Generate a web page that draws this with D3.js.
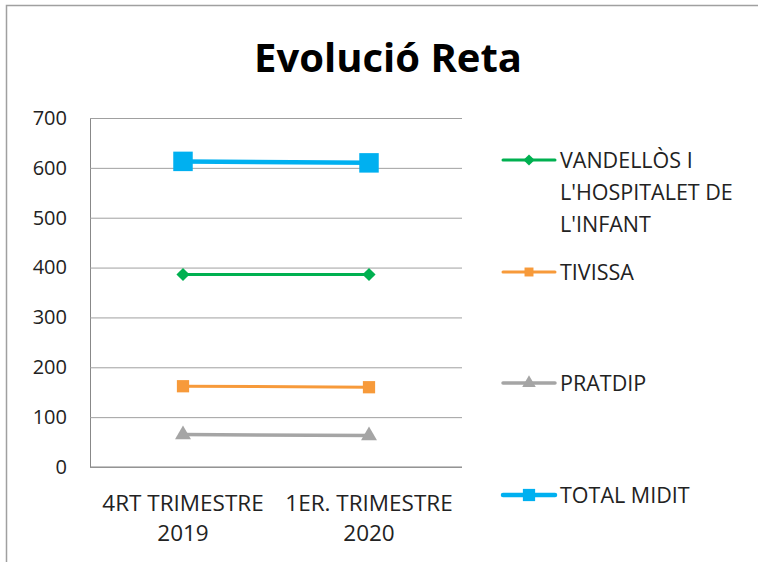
<!DOCTYPE html>
<html><head><meta charset="utf-8">
<script src="https://cdn.jsdelivr.net/npm/d3@7"></script>
<style>body{margin:0;background:#fff}text{font-family:"Open Sans",Lato,sans-serif}</style>
</head><body>
<svg id="c" width="758" height="562"></svg>
<script>
const categories = [["4RT TRIMESTRE","2019"],["1ER. TRIMESTRE","2020"]];
const seriesNames = [["VANDELLÒS I","L'HOSPITALET DE","L'INFANT"],["TIVISSA"],["PRATDIP"],["TOTAL MIDIT"]];
const vandellos = [386, 386];
const tivissa = [162, 160];
const pratdip = [65, 63];
const totalMidit = [613, 610];
const yTicks = [0,100,200,300,400,500,600,700];
const title = "Evolució Reta";

const series = [
  {name: seriesNames[0], values: vandellos, color:"#00B050", width:3, marker:"diamond", size:110, legY:160},
  {name: seriesNames[1], values: tivissa, color:"#F79A3A", width:3, marker:"square", size:150, legY:272},
  {name: seriesNames[2], values: pratdip, color:"#A5A5A5", width:3.5, marker:"triangle", size:110, legY:383},
  {name: seriesNames[3], values: totalMidit, color:"#00B0F0", width:4.5, marker:"square", size:380, legY:495}
];
const svg = d3.select("#c");
svg.append("path").attr("d","M6.5,562V5.5H758").attr("fill","none").attr("stroke","#a0a0a0").attr("stroke-width",1.5);

svg.append("text").attr("x",388).attr("y",72).attr("text-anchor","middle")
  .attr("font-size",40).attr("font-weight","bold").attr("fill","#000").text(title);

const x = d3.scaleBand().domain(d3.range(categories.length)).range([90,462]);
const y = d3.scaleLinear().domain([0,700]).range([467,118]);

const g = svg.append("g");
const yAxis = g.append("g").attr("transform","translate(90,0)")
  .call(d3.axisLeft(y).tickValues(yTicks).tickSize(-372).tickFormat(d3.format("d")));
yAxis.select(".domain").attr("stroke","#888");
yAxis.selectAll(".tick line").attr("stroke","#a0a0a0");
yAxis.selectAll(".tick text").attr("x",-23).attr("font-size",20).attr("fill","#222");

g.append("line").attr("x1",90).attr("x2",462).attr("y1",467).attr("y2",467).attr("stroke","#888");

categories.forEach((c,i)=>{
  const t = g.append("text").attr("text-anchor","middle").attr("font-size",22.5).attr("fill","#222");
  c.forEach((s,j)=>t.append("tspan").attr("x",x(i)+x.bandwidth()/2).attr("y",511+j*30).text(s));
});

const symMap = {diamond:d3.symbolDiamond2||d3.symbolDiamond, square:d3.symbolSquare, triangle:d3.symbolTriangle};
const line = d3.line().x((d,i)=>x(i)+x.bandwidth()/2).y(d=>y(d));
series.forEach(s=>{
  g.append("path").attr("d",line(s.values)).attr("fill","none").attr("stroke",s.color).attr("stroke-width",s.width);
  s.values.forEach((v,i)=>{
    g.append("path").attr("d",d3.symbol(symMap[s.marker], s.size)())
      .attr("transform",`translate(${x(i)+x.bandwidth()/2},${y(v)})`).attr("fill",s.color);
  });
  g.append("line").attr("x1",503).attr("x2",555).attr("y1",s.legY).attr("y2",s.legY)
    .attr("stroke",s.color).attr("stroke-width",s.width).attr("stroke-linecap","round");
  const ls = s.marker==="diamond"?80:(s.size>300?150:80);
  g.append("path").attr("d",d3.symbol(symMap[s.marker], ls)()).attr("transform",`translate(529,${s.legY})`).attr("fill",s.color);
  const t = g.append("text").attr("font-size",21.5).attr("fill","#222");
  s.name.forEach((n,j)=>t.append("tspan").attr("x",560).attr("y",s.legY+8+j*32).text(n));
});
</script>
</body></html>
